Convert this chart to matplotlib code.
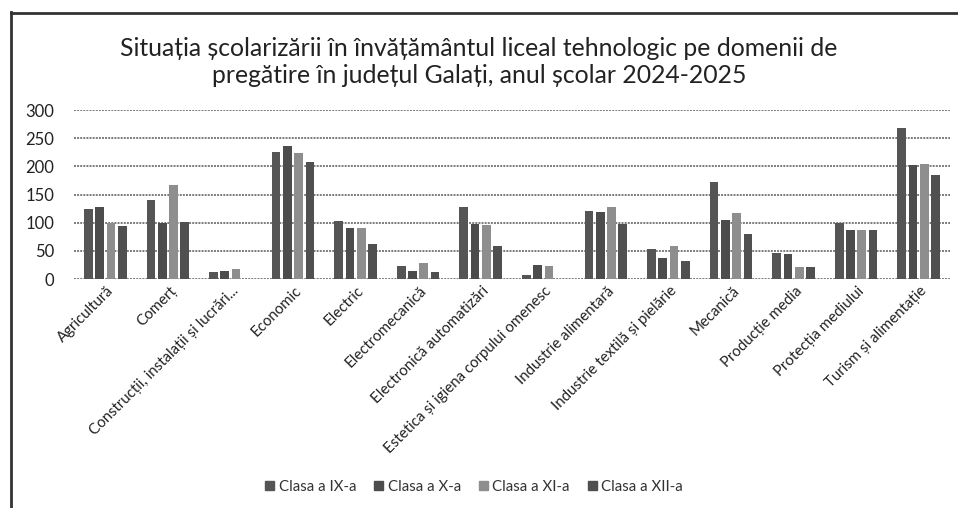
import numpy as np
import matplotlib
matplotlib.use('Agg')
import matplotlib.pyplot as plt
from matplotlib.lines import Line2D

plt.rcParams['font.family'] = ['Lato', 'DejaVu Sans']

# date
domenii = ['Agricultură', 'Comerț', 'Construcții, instalații și lucrări...', 'Economic',
           'Electric', 'Electromecanică', 'Electronică automatizări',
           'Estetica și igiena corpului omenesc', 'Industrie alimentară',
           'Industrie textilă și pielărie', 'Mecanică', 'Producție media',
           'Protecția mediului', 'Turism și alimentație']
clasa_ix = [124, 140, 12, 225, 103, 23, 127, 7, 120, 53, 173, 47, 99, 268]
clasa_x = [127, 99, 14, 236, 91, 15, 98, 24, 119, 38, 104, 45, 87, 202]
clasa_xi = [100, 166, 17, 223, 90, 29, 96, 23, 127, 59, 117, 22, 87, 205]
clasa_xii = [94, 101, 0, 208, 62, 13, 58, 0, 98, 32, 79, 21, 87, 185]
serii = ['Clasa a IX-a', 'Clasa a X-a', 'Clasa a XI-a', 'Clasa a XII-a']
culori = ['#555555', '#4c4c4c', '#8e8e8e', '#505050']

fig = plt.figure(figsize=(9.58, 5.08), dpi=100)
ax = fig.add_axes([74 / 958, 1 - 279 / 508, 876 / 958, 169 / 508])

x = np.arange(len(domenii))
latime = 0.139
pas = 0.18
for i, (vals, nume) in enumerate(zip([clasa_ix, clasa_x, clasa_xi, clasa_xii], serii)):
    ax.bar(x + (i - 1.5) * pas, vals, width=latime, color=culori[i], label=nume, zorder=3)

ax.set_xlim(-0.5, len(domenii) - 0.5)
ax.set_ylim(0, 300)
ax.set_yticks(range(0, 301, 50))
ax.grid(axis='y', color='#7a7a7a', linewidth=1.4, linestyle=(0, (1, 0.6)), zorder=0)
for s in ax.spines.values():
    s.set_visible(False)
ax.tick_params(axis='both', length=0)
ax.tick_params(axis='y', labelsize=12, pad=14, labelcolor='#222222')
ax.set_xticks(x + 0.02)
ax.set_xticklabels(domenii, rotation=45, ha='right', rotation_mode='anchor',
                   fontsize=10.8, color='#222222')

# titlu
fig.text(0.5, 1 - 62 / 508, 'Situația școlarizării în învățământul liceal tehnologic pe domenii de\n'
         'pregătire în județul Galați, anul școlar 2024-2025',
         ha='center', va='center', fontsize=17.8, color='#222222', linespacing=1.2)

# legenda
handles = [plt.Rectangle((0, 0), 1, 1, color=c) for c in culori]
fig.legend(handles, serii, loc='center', bbox_to_anchor=(0.495, 1 - 487 / 508), ncol=4,
           frameon=False, fontsize=10.8, handlelength=0.6, handleheight=0.6,
           handletextpad=0.3, columnspacing=1.2, labelcolor='#333333')

# chenarul scanat
fig.add_artist(Line2D([11 / 958, 11 / 958], [0, 1 - 12 / 508], transform=fig.transFigure,
                      color='#333333', linewidth=2))
fig.add_artist(Line2D([11 / 958, 1], [1 - 13 / 508, 1 - 13 / 508], transform=fig.transFigure,
                      color='#333333', linewidth=2))

fig.savefig('out.png', dpi=100)
